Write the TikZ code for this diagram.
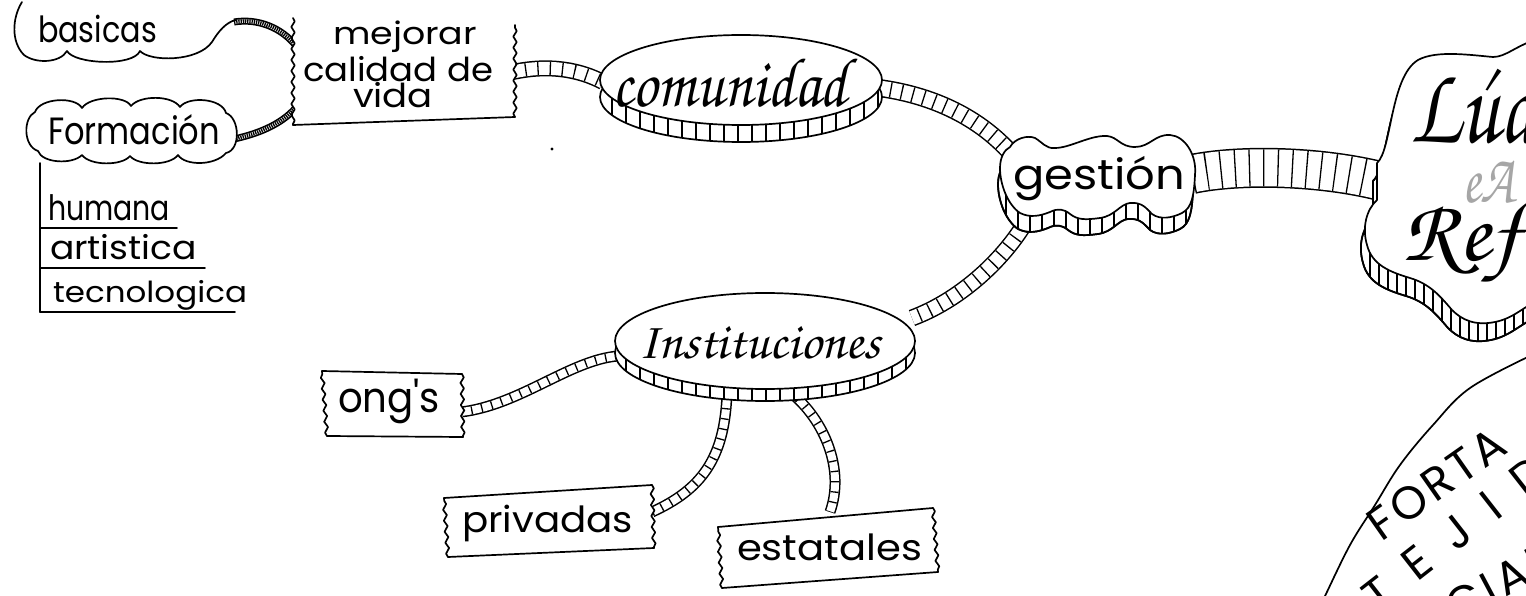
\documentclass[tikz,border=0pt]{standalone}
\usepackage{fontspec}
\usepackage[T1,TU]{fontenc}
\usepackage{graphicx}
\usetikzlibrary{decorations.pathmorphing}
\newfontfamily\hand{Poppins}
\newcommand\chanc{\fontencoding{T1}\fontfamily{pzc}\fontseries{mb}\fontshape{it}\selectfont}
\newcommand\hw[3]{\resizebox{#1pt}{\height}{\hand\fontsize{#2}{#2}\selectfont #3}}
\newcommand\cw[3]{\resizebox{#1pt}{\height}{\chanc\fontsize{#2}{#2}\selectfont #3}}
\newcommand\band[4]{%
 \draw[line cap=butt, line width=#1pt] #4;
 \draw[line cap=butt, line width=#2pt, white] #4;
 \draw[line cap=butt, line width=#2pt, dash pattern=on 1.3pt off #3pt] #4;}
\newcommand\wbox[4]{%
 \fill[white] #1 -- #2 -- #3 -- #4 -- cycle;
 \draw #1 -- #2;
 \draw[wavy] #2 -- #3;
 \draw #3 -- #4;
 \draw[wavy] #4 -- #1;}
\newcommand\gesshape[1]{#1 (1010,147) .. controls (1015,138) and (1028,135) .. (1035,138)
 .. controls (1042,142) and (1046,149) .. (1055,148)
 .. controls (1070,148) and (1090,135) .. (1107,136)
 .. controls (1118,137) and (1120,147) .. (1135,147)
 .. controls (1150,147) and (1155,134) .. (1170,135)
 .. controls (1185,136) and (1197,155) .. (1195,175)
 .. controls (1194,195) and (1192,208) .. (1182,213)
 .. controls (1172,218) and (1160,220) .. (1152,214)
 .. controls (1146,208) and (1142,202) .. (1130,203)
 .. controls (1120,204) and (1115,216) .. (1100,218)
 .. controls (1085,220) and (1078,220) .. (1070,214)
 .. controls (1064,209) and (1058,208) .. (1050,212)
 .. controls (1040,216) and (1030,218) .. (1020,213)
 .. controls (1008,205) and (1000,185) .. (1000,168)
 .. controls (1000,158) and (1004,150) .. (1010,147) -- cycle;}
\newcommand\lucshape[1]{#1 (1377,163) .. controls (1392,150) and (1390,77) .. (1418,60)
 .. controls (1436,50) and (1470,55) .. (1493,57)
 .. controls (1506,57) and (1515,46) .. (1540,38) -- (1540,300)
 .. controls (1525,305) and (1515,318) .. (1495,322)
 .. controls (1475,326) and (1462,320) .. (1452,310)
 .. controls (1440,296) and (1430,284) .. (1410,278)
 .. controls (1390,272) and (1372,265) .. (1367,245)
 .. controls (1362,228) and (1366,210) .. (1377,200) -- cycle;}
\begin{document}
\begin{tikzpicture}[x=1pt, y=-1pt, line width=1.7pt, line cap=round, line join=round,
  wavy/.style={decorate, decoration={snake, amplitude=1.7pt, segment length=11pt}},
  lbl/.style={inner sep=0pt, outer sep=0pt, anchor=base west},
  hatch/.style={line width=1.3pt}]
\useasboundingbox (0,0) rectangle (1526,596);
\fill[white] (0,0) rectangle (1526,596);
\clip (0,0) rectangle (1526,596);

% ---------- attach points ----------
\coordinate (basE) at (234,22);
\coordinate (mejW1) at (296,46);
\coordinate (formE) at (234,139);
\coordinate (mejW2) at (298,105);
\coordinate (mejE) at (513,72);
\coordinate (comW) at (603,82);
\coordinate (comE) at (879,88);
\coordinate (gesN) at (1008,150);
\coordinate (gesSW) at (1022,228);
\coordinate (instE) at (912,318);
\coordinate (gesE) at (1192,174);
\coordinate (lucW) at (1380,181);
\coordinate (ongE) at (461,412);
\coordinate (instW) at (618,356);
\coordinate (privE) at (652,512);
\coordinate (instS1) at (727,392);
\coordinate (instS2) at (790,392);
\coordinate (estN) at (830,512);

% ---------- connectors ----------
\band{7}{3.6}{0.9}{(basE) .. controls (258,18) and (282,28) .. (mejW1)}
\band{7}{3.6}{0.9}{(formE) .. controls (262,133) and (285,122) .. (mejW2)}
\band{16}{13}{11}{(mejE) .. controls (550,64) and (580,70) .. (comW)}
\band{18}{15}{10}{(comE) .. controls (930,95) and (975,115) .. (gesN)}
\band{17}{14}{10}{(gesSW) .. controls (1000,262) and (960,300) .. (instE)}
\band{40}{37}{13}{(gesE) .. controls (1240,164) and (1320,166) .. (lucW)}
\band{11}{8}{9}{(ongE) .. controls (520,405) and (570,360) .. (instW)}
\band{11}{8}{9}{(privE) .. controls (700,490) and (725,460) .. (instS1)}
\band{11}{8}{9}{(instS2) .. controls (825,420) and (845,470) .. (estN)}

% ---------- basicas cloud (top cut off) ----------
\draw (22,2) .. controls (12,18) and (11,42) .. (24,55)
 .. controls (36,64) and (60,63) .. (67,51)
 .. controls (74,64) and (133,67) .. (140,51)
 .. controls (150,62) and (198,62) .. (212,42)
 .. controls (218,32) and (226,22) .. (236,20);

% ---------- mejorar box (open top) ----------
\fill[white] (293,-5) -- (515,-5) -- (515,117) -- (293,125) -- cycle;
\draw[wavy] (293,18) -- (293,125);
\draw (293,125) -- (515,117);
\draw[wavy] (515,117) -- (515,25);

% ---------- Formacion cloud ----------
\draw[fill=white] (35,112) .. controls (40,98) and (75,96) .. (82,108)
 .. controls (90,96) and (125,95) .. (131,106)
 .. controls (140,95) and (172,95) .. (180,107)
 .. controls (188,96) and (222,98) .. (226,113)
 .. controls (240,118) and (241,150) .. (226,153)
 .. controls (215,166) and (185,166) .. (178,155)
 .. controls (170,166) and (138,166) .. (130,156)
 .. controls (122,166) and (90,166) .. (82,155)
 .. controls (72,165) and (42,163) .. (38,151)
 .. controls (23,146) and (23,118) .. (35,112) -- cycle;

% ---------- tree under Formacion ----------
\coordinate (tr0) at (40,163);
\coordinate (tr1) at (40,228);
\coordinate (tr2) at (40,268);
\coordinate (tr3) at (40,312);
\draw (tr0) -- (tr3);
\draw (tr1) -- ++(137,0);
\draw (tr2) -- ++(165,0);
\draw (tr3) -- ++(195,0);

% ---------- comunidad ----------
\fill[white] (741,97) ellipse [x radius=141, y radius=45];
\begin{scope}
 \clip (741,97) ellipse [x radius=141, y radius=45];
 \foreach \x in {598,612,...,890} \draw[hatch] (\x,40) -- (\x,150);
\end{scope}
\draw (741,97) ellipse [x radius=141, y radius=45];
\draw[fill=white] (741,80) ellipse [x radius=141, y radius=45];

% ---------- gestion ----------
\begin{scope}[shift={(-2,16)}]
 \gesshape{\draw[fill=white]}
 \begin{scope}
  \gesshape{\clip}
  \foreach \x in {996,1008,...,1200} \draw[hatch] (\x,120) -- (\x,240);
 \end{scope}
 \gesshape{\draw}
\end{scope}
\gesshape{\draw[fill=white]}

% ---------- Luc cloud ----------
\begin{scope}[shift={(-4,18)}]
 \lucshape{\draw[fill=white]}
 \begin{scope}
  \lucshape{\clip}
  \foreach \x in {1356,1365,...,1540} \draw[hatch] (\x,150) -- (\x,360);
 \end{scope}
 \lucshape{\draw}
\end{scope}
\lucshape{\draw[fill=white]}

% ---------- Instituciones ----------
\fill[white] (765,353) ellipse [x radius=150, y radius=48];
\begin{scope}
 \clip (765,353) ellipse [x radius=150, y radius=48];
 \foreach \x in {612,626,...,920} \draw[hatch] (\x,300) -- (\x,410);
\end{scope}
\draw (765,353) ellipse [x radius=150, y radius=48];
\draw[fill=white] (765,341) ellipse [x radius=150, y radius=48];

% ---------- boxes ----------
\wbox{(322,371)}{(462,374)}{(463,437)}{(327,436)}
\wbox{(444,498)}{(652,485)}{(654,548)}{(448,557)}
\wbox{(718,527)}{(933,508)}{(938,572)}{(722,588)}

% ---------- big arc at bottom right ----------
\draw plot[smooth, tension=0.6] coordinates {(1532,355) (1470,388) (1433,425) (1400,465) (1375,505) (1350,545) (1325,596) (1320,606)};

% ---------- texts ----------
\node[lbl] (basicas) at (38,43) {\hw{119}{36}{basicas}};
\node[lbl] (formacion) at (48,145) {\hw{172}{38}{Formación}};
\node[lbl] (humana) at (48,220) {\hw{122}{35}{humana}};
\node[lbl] (artistica) at (50,260) {\hw{147}{33}{artistica}};
\node[lbl] (tecno) at (53,302) {\hw{194}{29}{tecnologica}};
\node[lbl] (mejorar) at (333,45) {\hw{144}{31}{mejorar}};
\node[lbl] (calidad) at (303,82) {\hw{190}{33}{calidad de}};
\node[lbl] (vida) at (353,108) {\hw{80}{33}{vida}};
\node[lbl] (comunidad) at (612,107) {\cw{235}{70}{comunidad}};
\node[lbl] (gestion) at (1013,190) {\hw{172}{42}{gestión}};
\node[lbl] (inst) at (638,358) {\cw{242}{52}{Instituciones}};
\node[lbl] (ongs) at (338,412) {\hw{102}{42}{ong's}};
\node[lbl] (privadas) at (462,532) {\hw{171}{36}{privadas}};
\node[lbl] (estatales) at (737,560) {\hw{185}{36}{estatales}};
\node[lbl] (luc) at (1410,143) {\cw{128}{112}{L\'ud}};
\node[lbl] (ref) at (1402,260) {\cw{118}{88}{Ref}};
\node[lbl, text=black!35] (eA) at (1462,203) {\cw{52}{70}{eA}};
\node[lbl, rotate=35] (forta) at (1381,542) {\hand\fontsize{46}{46}\selectfont\addfontfeatures{LetterSpace=8}FORTA};
\node[lbl, rotate=38] (teji) at (1378,614) {\hand\fontsize{46}{46}\selectfont\addfontfeatures{LetterSpace=56}TEJID};
\node[lbl, rotate=28] (cial) at (1456,624) {\hand\fontsize{46}{46}\selectfont\addfontfeatures{LetterSpace=10}CIAL};

\fill (552,149) circle (1.6);
\end{tikzpicture}
\end{document}
